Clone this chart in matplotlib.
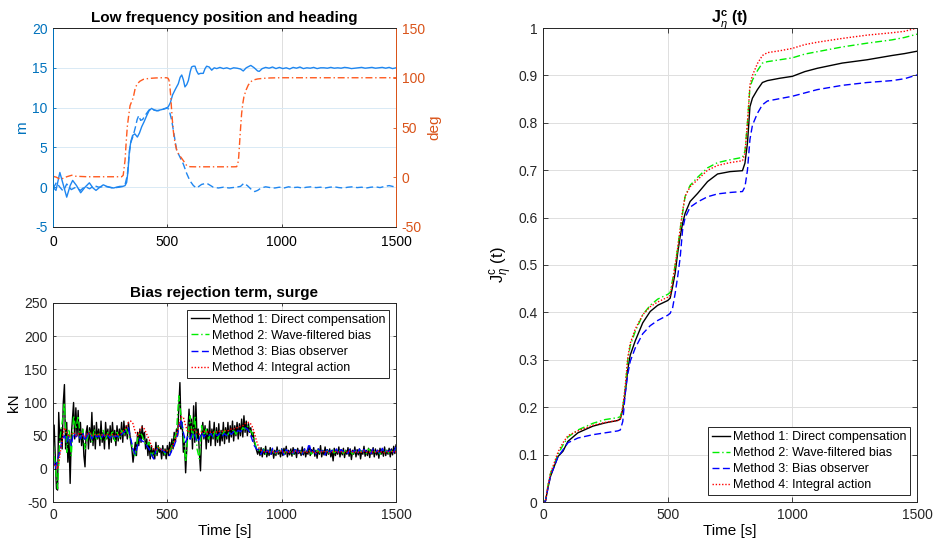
import matplotlib
matplotlib.use("Agg")
import matplotlib.pyplot as plt
import numpy as np
from matplotlib.ticker import FormatStrFormatter

plt.rcParams['font.family'] = ['Liberation Sans', 'DejaVu Sans']
plt.rcParams['axes.unicode_minus'] = False
plt.rcParams['mathtext.fontset'] = 'custom'
plt.rcParams['mathtext.rm'] = 'Liberation Sans'
plt.rcParams['mathtext.it'] = 'Liberation Sans:italic'
plt.rcParams['mathtext.bf'] = 'Liberation Sans:bold'

# ---------------- low frequency position (m) and heading (deg) ----------------
north_t = [0, 13, 30, 45, 60, 75, 86, 103, 121, 140,
           159, 175, 188, 205, 220, 235, 249, 265, 278, 292,
           305, 315, 322, 328, 334, 341, 348, 358, 369, 378,
           388, 398, 410, 420, 431, 442, 453, 468, 483, 495,
           504, 513, 523, 535, 548, 556, 563, 570, 577, 585,
           592, 600, 606, 613, 621, 628, 636, 645, 657, 665,
           672, 683, 694, 705, 716, 730, 745, 760, 775, 790,
           805, 820, 832, 845, 865, 880, 895, 902, 915, 930,
           945, 960, 975, 990, 1005, 1020, 1035, 1050, 1065, 1080,
           1095, 1110, 1125, 1140, 1155, 1170, 1185, 1200, 1215, 1230,
           1245, 1260, 1275, 1290, 1305, 1320, 1335, 1350, 1365, 1380,
           1395, 1410, 1425, 1440, 1455, 1470, 1485, 1500]
north_m = [0.0, -0.4, 1.85, 0.3, -1.25, 0.2, 0.85, 0.2, -0.7, 0.0,
           0.55, -0.1, -0.4, 0.0, 0.3, 0.1, 0.0, -0.1, 0.0, 0.1,
           0.1, 0.2, 0.6, 2.0, 4.6, 5.8, 6.5, 6.7, 6.3, 6.8,
           7.6, 8.2, 9.0, 9.6, 9.9, 9.7, 9.6, 9.7, 9.8, 9.9,
           10.1, 10.6, 11.6, 12.3, 13.0, 13.8, 14.1, 13.5, 12.6, 12.9,
           13.4, 14.5, 15.1, 15.2, 15.2, 14.6, 14.2, 14.3, 14.3, 14.9,
           15.2, 15.1, 14.7, 15.0, 14.9, 15.05, 14.9, 15.0, 14.85, 15.0,
           14.95, 14.85, 14.6, 15.0, 15.3, 15.0, 14.6, 14.55, 14.9, 15.05,
           14.95, 15.1, 14.9, 15.05, 14.9, 15.0, 14.85, 15.05, 14.95, 15.1,
           14.9, 15.0, 14.95, 15.05, 14.9, 15.0, 15.0, 14.95, 15.05, 14.95,
           15.0, 14.95, 15.05, 15.0, 14.9, 14.95, 15.0, 15.05, 14.95, 15.0,
           15.05, 14.95, 15.0, 15.05, 14.95, 15.05, 14.9, 15.0]

east_t = [0, 15, 30, 45, 60, 80, 100, 120, 140, 160,
          180, 200, 230, 260, 290, 305, 315, 325, 333, 340,
          350, 360, 368, 375, 383, 392, 400, 410, 420, 431,
          442, 460, 480, 500, 508, 519, 529, 541, 555, 570,
          585, 599, 614, 628, 650, 672, 701, 723, 745, 770,
          800, 820, 835, 850, 868, 882, 895, 910, 930, 950,
          970, 990, 1010, 1030, 1050, 1070, 1090, 1110, 1130, 1150,
          1170, 1190, 1210, 1230, 1250, 1270, 1290, 1310, 1330, 1350,
          1370, 1390, 1410, 1430, 1450, 1470, 1485, 1500]
east_m = [-0.2, 0.6, 0.0, -0.5, 0.4, -0.3, 0.0, -0.4, 0.1, -0.2,
          0.2, 0.0, 0.1, -0.1, 0.0, 0.1, 0.3, 1.5, 4.0, 5.6,
          6.4, 7.5, 8.5, 9.0, 8.4, 8.5, 8.9, 9.3, 9.7, 9.9,
          9.7, 9.6, 9.8, 10.0, 9.7, 8.4, 6.7, 4.6, 3.8, 2.9,
          1.7, 0.8, 0.2, -0.1, 0.35, 0.5, 0.0, -0.1, 0.0, -0.1,
          0.0, 0.1, 0.5, 0.2, -0.3, -0.55, -0.4, -0.1, 0.05, -0.05,
          -0.1, 0.0, -0.1, 0.05, -0.05, 0.0, -0.1, 0.0, 0.05, -0.05,
          0.0, -0.1, 0.0, 0.05, -0.05, -0.1, 0.0, 0.05, -0.05, 0.0,
          -0.1, 0.0, 0.05, -0.05, 0.1, 0.2, 0.1, 0.0]

head_t = [0, 15, 30, 45, 60, 82, 100, 150, 200, 250,
          300, 307, 315, 320, 325, 331, 337, 344, 351, 360,
          369, 380, 395, 410, 424, 450, 475, 497, 503, 507,
          511, 515, 518, 522, 526, 529, 535, 541, 550, 563,
          575, 585, 599, 620, 680, 740, 790, 803, 808, 812,
          815, 819, 822, 825, 830, 835, 845, 854, 865, 875,
          895, 919, 950, 992, 1050, 1150, 1250, 1350, 1450, 1500]
head_deg = [1.0, 0.0, -2.0, -1.0, 0.5, 2.0, 1.0, 0.5, 0.5, 0.5,
            0.5, 2.0, 17, 35, 51, 62, 72, 76, 80, 90,
            94, 96.5, 98.4, 99, 99.4, 99.8, 100, 100, 99.5, 97.7,
            92, 81, 70, 57.5, 47, 40.8, 33, 27.4, 23, 19,
            15, 11.6, 10.6, 10.5, 10.5, 10.5, 10.5, 10.6, 13, 20,
            30.7, 45, 55, 64.3, 74, 81, 88, 92.7, 96, 97.7,
            98.8, 99.4, 99.8, 100, 100, 100, 100, 100, 100, 100]

# ---------------- bias rejection term in surge (kN) ----------------
t_fast = np.arange(0, 1501, 5)
t_slow = np.arange(0, 1501, 10)

bias_direct = [30, 66, 20, -30, -32, 85, 40, 60, 30, 100, 127, 30, 70, 10, 45, -22, 50, 75, 100, 45, 92,
               50, 88, 40, 70, 35, 60, 20, 3, 55, 65, 30, 62, 40, 85, 35, 65, 30, 70, 45, 60,
               35, 72, 40, 55, 30, 70, 45, 60, 30, 65, 40, 70, 45, 58, 35, 65, 42, 60, 45, 70,
               40, 72, 50, 65, 45, 70, 55, 40, 30, 10, 25, 40, 20, 55, 35, 60, 40, 65, 45, 55,
               30, 45, 20, 40, 15, 35, 18, 30, 15, 40, 20, 35, 25, 30, 15, 35, 20, 30, 15, 35,
               20, 40, 25, 45, 30, 55, 40, 60, 50, 90, 130, 60, 70, 25, 40, -6, 30, 60, 90, 45,
               75, 30, 95, 40, 100, 45, 60, 25, -3, 50, 70, 45, 65, 30, 60, 40, 72, 35, 60, 45,
               70, 35, 62, 40, 68, 35, 58, 42, 70, 38, 62, 45, 70, 40, 65, 48, 72, 42, 65, 50,
               70, 45, 68, 50, 75, 48, 80, 55, 72, 50, 68, 55, 62, 48, 55, 40, 35, 28, 22, 30,
               20, 32, 18, 30, 22, 34, 18, 28, 20, 32, 22, 30, 16, 28, 20, 33, 22, 28, 18, 30,
               20, 31, 22, 34, 18, 28, 21, 30, 19, 32, 22, 29, 17, 31, 23, 28, 20, 33, 21, 30,
               18, 27, 22, 34, 20, 29, 24, 32, 19, 28, 16, 30, 22, 35, 18, 28, 21, 33, 20, 29,
               22, 30, 18, 27, 12, 31, 20, 28, 22, 33, 18, 29, 21, 31, 17, 28, 22, 32, 19, 30,
               14, 28, 22, 33, 18, 29, 21, 30, 15, 27, 22, 34, 19, 28, 20, 31, 17, 29, 22, 32,
               18, 30, 21, 28, 16, 31, 22, 29, 19, 33, 20, 28, 22, 31, 18, 30, 21, 34, 23, 36]

bias_wave = [40, 5, -30, 45, 70, 100, 25, 60, 20, 80, 60,
             80, 45, 60, 30, 45, 58, 40, 60, 45, 55,
             45, 58, 42, 55, 45, 58, 42, 55, 45, 58,
             50, 60, 50, 45, 25, 20, 45, 55, 50, 40,
             35, 40, 20, 25, 20, 35, 30, 30, 22, 28,
             25, 35, 45, 55, 110, 80, 50, 10, 50, 80,
             45, 80, 30, 15, 65, 50, 60, 45, 55, 48,
             58, 45, 55, 50, 58, 48, 55, 52, 60, 52,
             58, 55, 62, 60, 65, 58, 55, 45, 30, 28,
             24, 30, 22, 28, 25, 29, 21, 27, 26, 30, 23, 28, 24, 27, 22, 29, 25, 28, 23, 27,
             26, 30, 22, 28, 24, 29, 23, 27, 25, 28, 22, 30, 24, 27, 26, 29, 23, 28, 25, 27,
             22, 29, 24, 28, 26, 27, 23, 30, 25, 28, 24, 27, 22, 29, 25, 28, 23, 27, 26, 30]

bias_observer = [15, 0, 15, 25, 45, 50, 40, 50, 35, 55, 48,
                 52, 45, 55, 42, 50, 55, 45, 52, 48, 50,
                 45, 52, 47, 50, 46, 52, 48, 50, 47, 52,
                 55, 58, 62, 45, 30, 22, 35, 45, 42, 40,
                 35, 30, 22, 15, 28, 32, 30, 28, 25, 22,
                 20, 28, 35, 45, 60, 75, 55, 40, 50, 45,
                 55, 50, 40, 45, 55, 48, 52, 50, 53, 48,
                 52, 50, 54, 49, 53, 50, 55, 52, 56, 54,
                 58, 56, 60, 62, 60, 55, 45, 35, 30, 28,
                 22, 30, 25, 28, 20, 31, 24, 27, 26, 30, 21, 29, 25, 28, 23, 32, 24, 27, 22, 30,
                 25, 38, 24, 28, 22, 30, 26, 27, 21, 31, 24, 28, 25, 30, 22, 29, 26, 27, 23, 31,
                 25, 28, 22, 30, 24, 29, 26, 27, 23, 30, 25, 28, 22, 31, 24, 27, 26, 30, 25, 33]

bias_integral = [10, 5, 0, 20, 45, 62, 55, 48, 52, 55, 50,
                 52, 55, 50, 48, 52, 55, 50, 52, 50, 53,
                 50, 52, 50, 53, 50, 52, 50, 51, 52, 55,
                 58, 62, 70, 72, 68, 55, 50, 58, 63, 60,
                 52, 45, 35, 30, 28, 32, 30, 28, 28, 27,
                 28, 33, 40, 50, 65, 78, 78, 65, 55, 58,
                 60, 58, 55, 52, 55, 57, 55, 56, 55, 55,
                 56, 55, 57, 56, 58, 57, 58, 60, 60, 62,
                 62, 64, 65, 68, 70, 70, 65, 55, 42, 32,
                 28, 26, 25, 27, 25, 26, 24, 26, 25, 27, 25, 26, 24, 26, 25, 27, 25, 26, 24, 26,
                 25, 27, 25, 26, 24, 26, 25, 27, 25, 26, 24, 26, 25, 27, 25, 26, 24, 26, 25, 27,
                 25, 26, 24, 26, 25, 27, 25, 26, 24, 26, 25, 27, 25, 26, 24, 26, 25, 27, 25, 26]

# ---------------- normalised cumulative performance index ----------------
j_t = [0, 10, 20, 30, 60, 80, 100, 140, 200, 250,
       300, 310, 320, 330, 340, 350, 370, 400, 430, 460,
       500, 510, 520, 530, 540, 550, 560, 570, 590, 620,
       660, 700, 750, 800, 810, 820, 830, 840, 860, 880,
       900, 950, 1000, 1050, 1100, 1200, 1300, 1400, 1450, 1500]
j_direct = [0, 0.002, 0.03, 0.054, 0.096, 0.107, 0.128, 0.146, 0.16, 0.167,
            0.172, 0.175, 0.195, 0.23, 0.28, 0.31, 0.34, 0.378, 0.402, 0.415,
            0.425, 0.43, 0.455, 0.483, 0.525, 0.56, 0.588, 0.609, 0.634, 0.651,
            0.676, 0.692, 0.697, 0.699, 0.715, 0.757, 0.834, 0.852, 0.87, 0.885,
            0.889, 0.894, 0.898, 0.908, 0.915, 0.926, 0.933, 0.942, 0.946, 0.951]
j_wave = [0, 0.003, 0.035, 0.06, 0.1, 0.12, 0.137, 0.152, 0.166, 0.174,
          0.178, 0.18, 0.2, 0.24, 0.3, 0.33, 0.36, 0.395, 0.415, 0.428,
          0.438, 0.442, 0.47, 0.5, 0.535, 0.575, 0.61, 0.645, 0.668, 0.685,
          0.705, 0.716, 0.722, 0.727, 0.74, 0.8, 0.875, 0.89, 0.91, 0.926,
          0.929, 0.933, 0.937, 0.945, 0.95, 0.96, 0.968, 0.975, 0.98, 0.987]
j_observer = [0, 0.002, 0.03, 0.055, 0.095, 0.11, 0.125, 0.135, 0.142, 0.146,
              0.15, 0.152, 0.17, 0.23, 0.27, 0.297, 0.325, 0.355, 0.372, 0.383,
              0.394, 0.398, 0.41, 0.44, 0.475, 0.515, 0.575, 0.6, 0.622, 0.633,
              0.644, 0.65, 0.653, 0.655, 0.665, 0.7, 0.765, 0.795, 0.82, 0.838,
              0.846, 0.851, 0.856, 0.863, 0.87, 0.879, 0.885, 0.889, 0.893, 0.901]
j_integral = [0, 0.003, 0.035, 0.06, 0.105, 0.125, 0.14, 0.15, 0.162, 0.168,
              0.172, 0.175, 0.2, 0.245, 0.305, 0.335, 0.365, 0.395, 0.412, 0.422,
              0.432, 0.436, 0.465, 0.5, 0.535, 0.575, 0.615, 0.645, 0.665, 0.68,
              0.7, 0.71, 0.716, 0.72, 0.735, 0.8, 0.88, 0.9, 0.925, 0.942,
              0.948, 0.952, 0.957, 0.965, 0.97, 0.978, 0.985, 0.99, 0.993, 1.0]

method_labels = ['Method 1: Direct compensation', 'Method 2: Wave-filtered bias',
                 'Method 3: Bias observer', 'Method 4: Integral action']

# ---------------- styling ----------------
AX = '#262626'
GRID = '#dedede'
BLUE_AX = '#0072BD'
BLUE_LN = '#1E86F0'
ORANGE_AX = '#D95319'
ORANGE_LN = '#FF5A1F'
FS = 10
method_styles = [dict(color='black', ls='-'),
                 dict(color='#00EE00', ls=(0, (5, 2, 1, 2))),
                 dict(color='#0000FF', ls=(0, (5, 2.5))),
                 dict(color='#FF0000', ls=(0, (1, 1.3)))]

W, H = 935, 547
fig = plt.figure(figsize=(W / 100, H / 100), dpi=100)


def box(l, t, r, b):
    return [l / W, 1 - b / H, (r - l) / W, (b - t) / H]


def style(ax, ticklen):
    for s in ax.spines.values():
        s.set_color(AX)
        s.set_linewidth(0.7)
    ax.tick_params(direction='in', length=ticklen, width=0.6, colors=AX,
                   labelsize=FS, top=True, right=True, pad=4)
    ax.set_axisbelow(True)


def add_legend(ax, loc):
    leg = ax.legend(loc=loc, fontsize=9, fancybox=False, edgecolor=AX,
                    framealpha=1, handlelength=1.5, handletextpad=0.2,
                    labelspacing=0.33, borderpad=0.3, borderaxespad=0.55)
    leg.get_frame().set_linewidth(0.7)
    return leg


# --- top left: position and heading ---
ax1 = fig.add_axes(box(53, 28, 396, 227))
style(ax1, 2.5)
ax1.tick_params(axis='y', right=False, colors=BLUE_AX)
ax1.tick_params(axis='x', labelcolor='black', pad=6)
ax1.plot(north_t, north_m, color=BLUE_LN, lw=1.0)
ax1.plot(east_t, east_m, color=BLUE_LN, lw=1.0, ls=(0, (5, 2.5)))
ax1.set_xlim(0, 1500)
ax1.set_ylim(-5, 20)
ax1.set_xticks([0, 500, 1000, 1500])
ax1.set_yticks([-5, 0, 5, 10, 15, 20])
ax1.xaxis.grid(True, color=GRID, lw=0.7)
ax1.yaxis.grid(True, color='#d9eaf5', lw=0.7)
ax1.spines['left'].set_color(BLUE_AX)
ax1.spines['right'].set_color(ORANGE_AX)
ax1.set_ylabel('m', color=BLUE_AX, fontsize=FS + 1, labelpad=2)
ax1.set_title('Low frequency position and heading', fontsize=11,
              fontweight='bold', pad=4)

ax1r = ax1.twinx()
ax1r.plot(head_t, head_deg, color=ORANGE_LN, lw=1.0, ls=(0, (5, 2, 1, 2)))
ax1r.set_ylim(-50, 150)
ax1r.set_yticks([-50, 0, 50, 100, 150])
ax1r.tick_params(axis='y', direction='in', length=2.5, width=0.6,
                 colors=ORANGE_AX, labelsize=FS, pad=4)
for s in ax1r.spines.values():
    s.set_linewidth(0.7)
    s.set_color(AX)
ax1r.spines['left'].set_color(BLUE_AX)
ax1r.spines['right'].set_color(ORANGE_AX)
ax1r.set_ylabel('deg', color=ORANGE_AX, fontsize=FS + 1, labelpad=2)

# --- bottom left: bias rejection term ---
ax2 = fig.add_axes(box(53, 303, 396, 502))
style(ax2, 2.5)
bias_series = [bias_direct, bias_wave, bias_observer, bias_integral]
bias_times = [t_fast, t_slow, t_slow, t_slow]
for tt, yy, st, lab in zip(bias_times, bias_series, method_styles, method_labels):
    ax2.plot(tt, yy, lw=1.0, label=lab, **st)
ax2.set_xlim(0, 1500)
ax2.set_ylim(-50, 250)
ax2.set_xticks([0, 500, 1000, 1500])
ax2.set_yticks(np.arange(-50, 251, 50))
ax2.grid(True, color=GRID, lw=0.7)
ax2.set_xlabel('Time [s]', fontsize=FS + 1, labelpad=2)
ax2.set_ylabel('kN', fontsize=FS + 1, labelpad=2)
ax2.set_title('Bias rejection term, surge', fontsize=11,
              fontweight='bold', pad=4)
add_legend(ax2, 'upper right')

# --- right: performance index ---
ax3 = fig.add_axes(box(543, 28, 917, 502))
style(ax3, 3.5)
j_series = [j_direct, j_wave, j_observer, j_integral]
for yy, st, lab in zip(j_series, method_styles, method_labels):
    ax3.plot(j_t, yy, lw=1.0, label=lab, **st)
ax3.set_xlim(0, 1500)
ax3.set_ylim(0, 1)
ax3.set_xticks([0, 500, 1000, 1500])
ax3.set_yticks(np.round(np.arange(0, 1.01, 0.1), 1))
ax3.yaxis.set_major_formatter(FormatStrFormatter('%g'))
ax3.grid(True, color=GRID, lw=0.7)
ax3.set_xlabel('Time [s]', fontsize=FS + 1, labelpad=2)
ax3.set_ylabel(r'$\mathrm{J}^{\mathrm{c}}_{\eta}$ (t)', fontsize=FS + 2, labelpad=2)
ax3.set_title(r'$\mathbf{J}^{\mathbf{c}}_{\eta}$ (t)', fontsize=11.5,
              fontweight='bold', pad=4)
add_legend(ax3, 'lower right')

fig.savefig('out.png', dpi=100)
